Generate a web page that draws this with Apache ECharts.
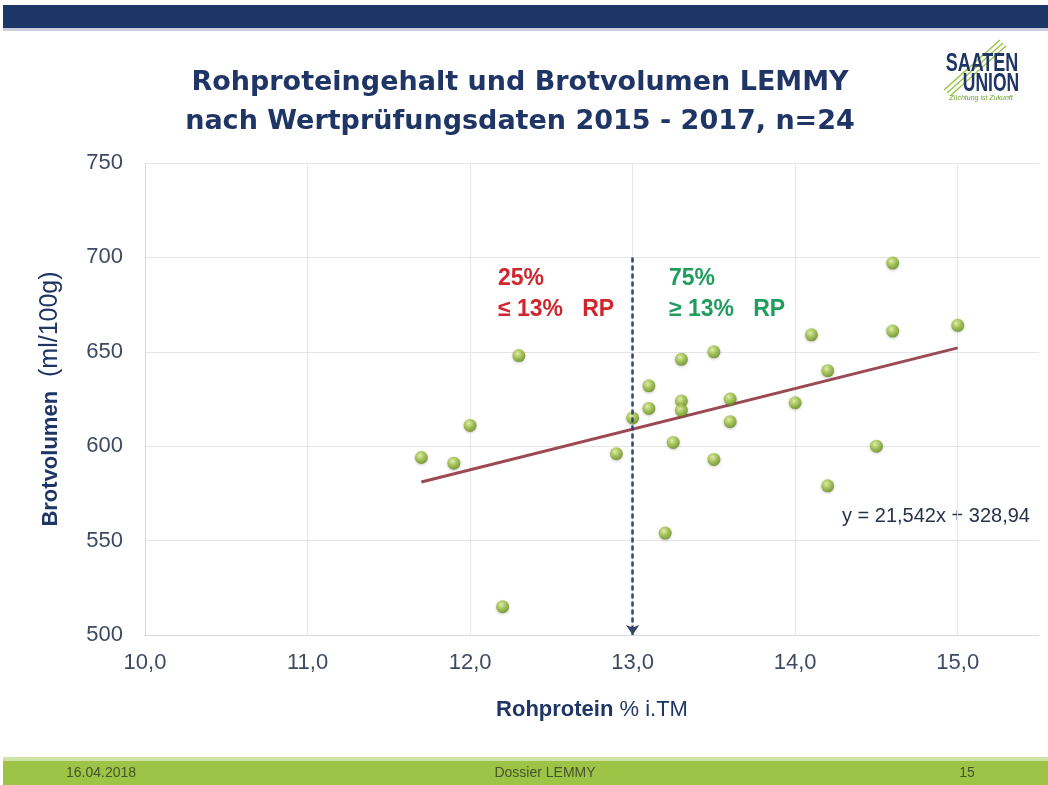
<!DOCTYPE html>
<html>
<head>
<meta charset="utf-8">
<title>Rohproteingehalt und Brotvolumen LEMMY</title>
<script src="https://cdn.jsdelivr.net/npm/echarts@6/dist/echarts.min.js"></script>
<style>
  html, body { margin: 0; padding: 0; background: #fff; }
  #chart { width: 1048px; height: 785px; }
</style>
</head>
<body>
<div id="chart"></div>
<script>
// Rohprotein (% i.TM) und Brotvolumen (ml/100g)
const protein = [11.7, 11.9, 12.0, 12.2, 12.3, 12.9, 13.0, 13.1, 13.1, 13.2, 13.25, 13.3, 13.3, 13.3,
  13.5, 13.5, 13.6, 13.6, 14.0, 14.1, 14.2, 14.2, 14.5, 14.6, 14.6, 15.0]
const volume = [594, 591, 611, 515, 648, 596, 615, 620, 632, 554, 602, 646, 624, 619,
  650, 593, 625, 613, 623, 659, 640, 579, 600, 697, 661, 664]

// lineare Trendlinie (Endpunkte)
const trendX = [11.7, 15.0]
const trendY = [581.0, 652.1]

// Grenze 13 % RP
const limitX = 13
const limitY = [700, 500]

const xMin = 10, xMax = 15.5, xStep = 1
const yMin = 500, yMax = 750, yStep = 50

const titleLines = ['Rohproteingehalt und Brotvolumen LEMMY', 'nach Wertprüfungsdaten 2015 - 2017, n=24']
const lowText = ['25%', '≤ 13%   RP']
const highText = ['75%', '≥ 13%   RP']
const equation = 'y = 21,542x + 328,94'
const footer = ['16.04.2018', 'Dossier LEMMY', '15']

const FONT = '"Liberation Sans", Arial, sans-serif'
const HEAVY = '"DejaVu Sans", Verdana, sans-serif'
const NAVY = '#1f3566'
const LABEL = '#3e4a62'

let chart = echarts.init(document.getElementById('chart'), null, { renderer: 'canvas' })

let option = {
  backgroundColor: '#fff',
  animation: false,
  grid: { left: 145, right: 9, top: 163, bottom: 150 },
  xAxis: {
    type: 'value',
    min: xMin,
    max: xMax,
    interval: xStep,
    name: '{b|Rohprotein}{n| % i.TM}',
    nameLocation: 'middle',
    nameGap: 64,
    nameTextStyle: {
      rich: {
        b: { fontFamily: FONT, fontSize: 22, fontWeight: 'bold', color: NAVY },
        n: { fontFamily: FONT, fontSize: 22, color: NAVY }
      }
    },
    axisLine: { show: true, lineStyle: { color: '#d9d9d9' } },
    axisTick: { show: false },
    axisLabel: {
      margin: 17,
      fontFamily: FONT,
      fontSize: 22,
      color: LABEL,
      showMaxLabel: false,
      formatter: v => v.toFixed(1).replace('.', ',')
    },
    splitLine: { show: true, showMaxLine: false, lineStyle: { color: '#e6e6e6' } }
  },
  yAxis: {
    type: 'value',
    min: yMin,
    max: yMax,
    interval: yStep,
    name: '{b|Brotvolumen}{n|  (ml/100g)}',
    nameLocation: 'middle',
    nameRotate: 90,
    nameGap: 82,
    nameTextStyle: {
      rich: {
        b: { fontFamily: FONT, fontSize: 22, fontWeight: 'bold', color: NAVY },
        n: { fontFamily: FONT, fontSize: 25, color: NAVY }
      }
    },
    axisLine: { show: true, lineStyle: { color: '#d9d9d9' } },
    axisTick: { show: false },
    axisLabel: {
      margin: 22,
      fontFamily: FONT,
      fontSize: 22,
      color: LABEL
    },
    splitLine: { show: true, lineStyle: { color: '#e6e6e6' } }
  },
  series: [
    {
      name: 'Trend',
      type: 'line',
      data: trendX.map((x, i) => [x, trendY[i]]),
      symbol: 'none',
      lineStyle: { color: '#9b4a55', width: 3 },
      z: 2
    },
    {
      name: 'Sorten',
      type: 'scatter',
      data: protein.map((x, i) => [x, volume[i]]),
      symbolSize: 13,
      itemStyle: {
        color: {
          type: 'radial', x: 0.4, y: 0.35, r: 0.7,
          colorStops: [
            { offset: 0, color: '#e6f3a6' },
            { offset: 0.45, color: '#9dc33f' },
            { offset: 1, color: '#5f8415' }
          ]
        },
        shadowColor: 'rgba(0,0,0,0.25)',
        shadowBlur: 3,
        shadowOffsetY: 1
      },
      markLine: {
        silent: true,
        symbol: ['none', 'arrow'],
        symbolSize: [10, 10],
        label: { show: false },
        lineStyle: { color: '#34456b', width: 2.5, type: [5, 3] },
        data: [[{ coord: [limitX, limitY[0]] }, { coord: [limitX, limitY[1]] }]]
      },
      z: 4
    }
  ],
  graphic: [
    // Kopfbalken
    { type: 'rect', shape: { x: 3, y: 5, width: 1045, height: 23 }, style: { fill: '#1d3668' } },
    { type: 'rect', shape: { x: 3, y: 28, width: 1045, height: 3 }, style: { fill: '#c9ced8' } },
    // Titel
    {
      type: 'text', x: 520, y: 83,
      style: { text: titleLines[0], font: 'bold 27px ' + HEAVY, fill: NAVY, textAlign: 'center', textVerticalAlign: 'middle' }
    },
    {
      type: 'text', x: 520, y: 122,
      style: { text: titleLines[1], font: 'bold 27px ' + HEAVY, fill: NAVY, textAlign: 'center', textVerticalAlign: 'middle' }
    },
    // Logo
    { type: 'line', shape: { x1: 944, y1: 90, x2: 1000, y2: 40 }, style: { stroke: '#9cc64a', lineWidth: 1.5 } },
    { type: 'line', shape: { x1: 947, y1: 93, x2: 1003, y2: 43 }, style: { stroke: '#9cc64a', lineWidth: 1.5 } },
    { type: 'line', shape: { x1: 950, y1: 96, x2: 1006, y2: 46 }, style: { stroke: '#9cc64a', lineWidth: 1.5 } },
    {
      type: 'text', x: 982, y: 64, scaleX: 0.72,
      style: { text: 'SAATEN', font: 'bold 25px ' + FONT, fill: NAVY, textAlign: 'center', textVerticalAlign: 'middle' }
    },
    {
      type: 'text', x: 991, y: 84, scaleX: 0.7,
      style: { text: 'UNION', font: 'bold 25px ' + FONT, fill: NAVY, textAlign: 'center', textVerticalAlign: 'middle' }
    },
    {
      type: 'text', x: 981, y: 98,
      style: { text: 'Züchtung ist Zukunft', font: 'italic 7px ' + FONT, fill: '#6aa02c', textAlign: 'center', textVerticalAlign: 'middle' }
    },
    // Anmerkungen
    {
      type: 'text', x: 498, y: 279,
      style: { text: lowText[0], font: 'bold 23px ' + FONT, fill: '#d0262e', textVerticalAlign: 'middle' }
    },
    {
      type: 'text', x: 498, y: 310,
      style: { text: lowText[1], font: 'bold 23px ' + FONT, fill: '#d0262e', textVerticalAlign: 'middle' }
    },
    {
      type: 'text', x: 669, y: 279,
      style: { text: highText[0], font: 'bold 23px ' + FONT, fill: '#1f9c5e', textVerticalAlign: 'middle' }
    },
    {
      type: 'text', x: 669, y: 310,
      style: { text: highText[1], font: 'bold 23px ' + FONT, fill: '#1f9c5e', textVerticalAlign: 'middle' }
    },
    {
      type: 'text', x: 842, y: 516,
      style: { text: equation, font: '20px ' + FONT, fill: '#27324d', textVerticalAlign: 'middle' }
    },
    // Fussleiste
    { type: 'rect', shape: { x: 3, y: 757, width: 1045, height: 4 }, style: { fill: '#cfe3a6' } },
    { type: 'rect', shape: { x: 3, y: 761, width: 1045, height: 24 }, style: { fill: '#9dc447' } },
    {
      type: 'text', x: 66, y: 773,
      style: { text: footer[0], font: '14px ' + FONT, fill: '#45542c', textVerticalAlign: 'middle' }
    },
    {
      type: 'text', x: 545, y: 773,
      style: { text: footer[1], font: '14px ' + FONT, fill: '#45542c', textAlign: 'center', textVerticalAlign: 'middle' }
    },
    {
      type: 'text', x: 967, y: 773,
      style: { text: footer[2], font: '14px ' + FONT, fill: '#45542c', textAlign: 'center', textVerticalAlign: 'middle' }
    }
  ]
}

chart.setOption(option)

window.onresize = function () {
  if (chart) {
    chart.resize()
  }
}
</script>
</body>
</html>
